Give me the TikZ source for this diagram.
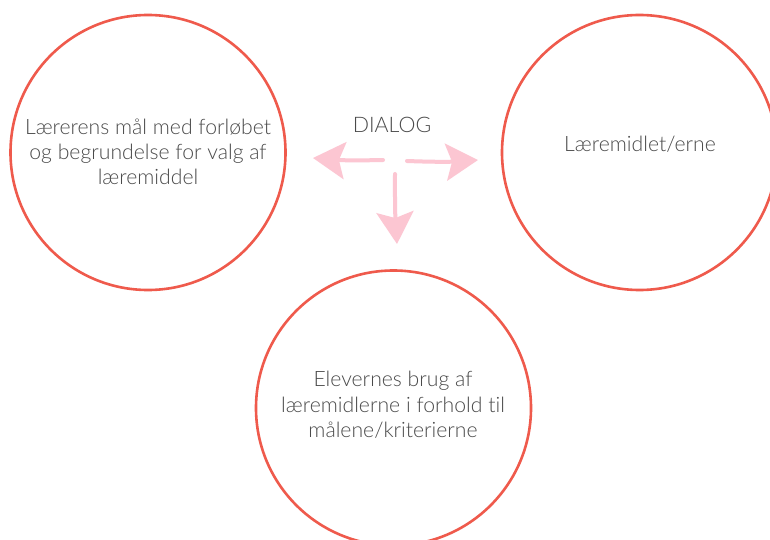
\documentclass[tikz,border=0pt]{standalone}
\usepackage{fontspec}
\setmainfont{Lato Light}[Ligatures=NoCommon]
\usetikzlibrary{arrows.meta}
\definecolor{ring}{HTML}{EF5A4C}
\definecolor{ink}{HTML}{4A4A4A}
\definecolor{pinkarrow}{HTML}{FCC6D2}
\begin{document}
\begin{tikzpicture}[x=1pt,y=-1pt,
  ringnode/.style={circle, draw=ring, line width=2.6pt, minimum size=275pt, inner sep=0pt},
  txt/.style={text=ink, font=\fontsize{21.2}{25.3}\selectfont, align=center, inner sep=0pt},
  dlgarrow/.style={line width=4pt, draw=pinkarrow, line cap=round,
    -{Stealth[length=32pt,width=37pt,inset=6pt,fill=pinkarrow]}}]
\useasboundingbox (0,0) rectangle (770,540);
\clip (0,0) rectangle (770,540);
\fill[white] (0,0) rectangle (770,540);

\node[ringnode] (left) at (148,152.5) {};
\node[ringnode] (right) at (639.5,152.5) {};
\node[ringnode] (bottom) at (393.5,408) {};

\node[txt] (lefttxt) at (148,152) {Lærerens mål med forløbet\\og begrundelse for valg af\\læremiddel};
\node[txt] (righttxt) at (640,144) {Læremidlet/erne};
\node[txt] (bottomtxt) at (393,405) {Elevernes brug af\\læremidlerne i forhold til\\målene/kriterierne};

\node[text=ink, font=\fontsize{21.4}{24}\selectfont, inner sep=0pt] (dialog) at (392,125) {DIALOG};

\coordinate (lA) at (383,160);
\coordinate (lB) at (313,158);
\coordinate (rA) at (407,161);
\coordinate (rB) at (478,160);
\coordinate (dA) at (395,174);
\coordinate (dB) at (397,244);

\draw[dlgarrow] (lA) to[bend left=3] (lB);
\draw[dlgarrow] (rA) to[bend right=3] (rB);
\draw[dlgarrow] (dA) to[bend right=2] (dB);
\end{tikzpicture}
\end{document}
